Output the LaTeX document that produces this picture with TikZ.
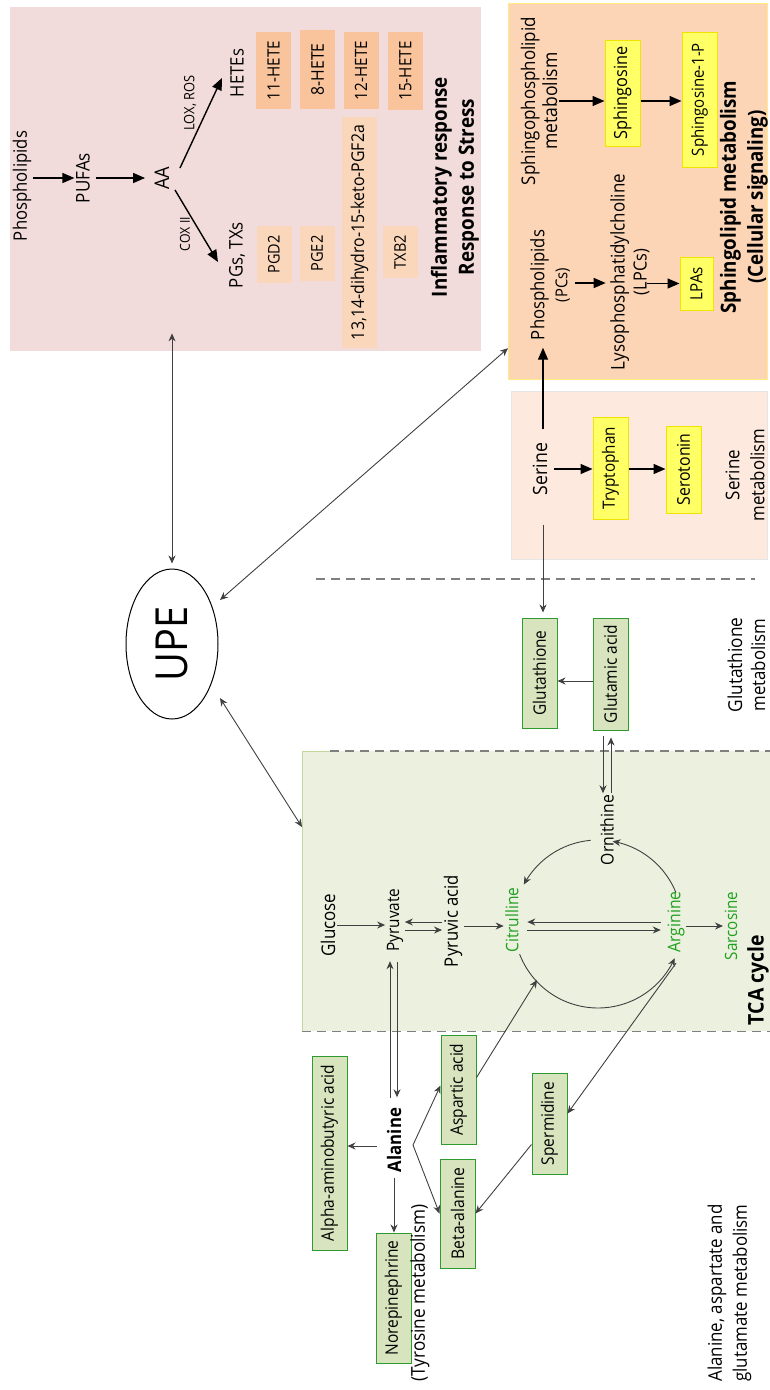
\documentclass[tikz,border=0pt]{standalone}
\usepackage{fontspec}
\setmainfont{Open Sans}[FakeStretch=0.9]
\usetikzlibrary{arrows.meta,shapes.geometric}
\newcommand{\txw}[2]{\resizebox{#1pt}{!}{#2}}
\definecolor{infbg}{HTML}{F2DCDB}
\definecolor{sphbg}{HTML}{FBD5B5}
\definecolor{sphbd}{HTML}{FFEB80}
\definecolor{serbg}{HTML}{FDE9DD}
\definecolor{serbd}{HTML}{E6E6E6}
\definecolor{tcabg}{HTML}{EBF1DE}
\definecolor{tcabd}{HTML}{C3D69B}
\definecolor{hetebg}{HTML}{F9C49C}
\definecolor{pgbg}{HTML}{FAD7BA}
\definecolor{yelbg}{HTML}{FFFF66}
\definecolor{yelbd}{HTML}{F2E400}
\definecolor{grnbg}{HTML}{D7E4BD}
\definecolor{grnbd}{HTML}{2F9A2F}
\definecolor{grntxt}{HTML}{1FA01F}
\definecolor{arr}{HTML}{404040}
\definecolor{dashc}{HTML}{7F7F7F}
\tikzset{
  lbl/.style={rotate=90, inner sep=1.5pt, align=center, font=\fontsize{18}{23}\selectfont},
  sml/.style={rotate=90, inner sep=1pt, font=\fontsize{13}{15}\selectfont},
  ttl/.style={rotate=90, inner sep=1pt, align=center, font=\fontsize{21}{27}\selectfont\bfseries},
  boxbase/.style={rotate=90, inner sep=0pt, minimum height=35pt, font=\fontsize{17}{20}\selectfont},
  hetebox/.style={boxbase, fill=hetebg},
  pgbox/.style={boxbase, fill=pgbg},
  ybox/.style={boxbase, fill=yelbg, draw=yelbd, line width=1pt},
  gbox/.style={boxbase, fill=grnbg, draw=grnbd, line width=1pt},
  gtxt/.style={lbl, text=grntxt},
  bk/.style={draw=black, line width=1.4pt, -{Triangle[length=12pt,width=10pt]}},
  ga/.style={draw=arr, line width=0.9pt, -{Stealth[length=8pt,width=7pt]}},
  gab/.style={draw=arr, line width=0.9pt, {Stealth[length=8pt,width=7pt]}-{Stealth[length=8pt,width=7pt]}},
  sepline/.style={draw=dashc, line width=1.3pt, dash pattern=on 9pt off 6pt},
  bgbox/.style={inner sep=0pt, anchor=north west}
}
\begin{document}
\begin{tikzpicture}[x=1pt,y=-1pt]
\useasboundingbox (0,0) rectangle (770,1390);
% ---------- backgrounds ----------
\node[bgbox, fill=infbg, minimum width=471pt, minimum height=344pt] (infbox) at (10,7) {};
\node[bgbox, fill=sphbg, draw=sphbd, line width=1.2pt, minimum width=259pt, minimum height=376pt] (sphbox) at (508,3) {};
\node[bgbox, fill=serbg, draw=serbd, line width=1pt, minimum width=256pt, minimum height=168pt] (serbox) at (511,391) {};
\node[bgbox, fill=tcabg, minimum width=468pt, minimum height=280pt] (tcabox) at (302,751) {};
\draw[tcabd, line width=1pt] (tcabox.north west) -- (tcabox.south west);
\draw[tcabd, line width=1pt] (tcabox.north west) -- ([xshift=28pt]tcabox.north west);
\draw[sepline] ([xshift=28pt]tcabox.north west) -- (tcabox.north east);
\draw[sepline] (tcabox.south west) -- (tcabox.south east);
\draw[sepline] (316,579) -- (755,579);

% ---------- inflammatory ----------
\node[lbl] (phos) at (22,186) {\txw{110}{Phospholipids}};
\node[lbl] (pufa) at (83,178) {\txw{50}{PUFAs}};
\node[lbl] (aa) at (162,178) {\txw{23}{AA}};
\node[lbl] (hetes) at (237,73) {\txw{48}{HETEs}};
\node[lbl] (pgs) at (237,255) {\txw{66}{PGs, TXs}};
\node[sml] (lox) at (190,103) {\txw{55}{LOX, ROS}};
\node[sml] (cox) at (185,234) {\txw{34}{COX II}};
\node[hetebox, minimum width=77pt] (h11) at (273.5,70.5) {\txw{59}{11-HETE}};
\node[hetebox, minimum width=79pt] (h8) at (317.5,69.5) {\txw{52}{8-HETE}};
\node[hetebox, minimum width=77pt] (h12) at (361,70.5) {\txw{59}{12-HETE}};
\node[hetebox, minimum width=78pt] (h15) at (405.5,71) {\txw{59}{15-HETE}};
\node[pgbox, minimum width=57pt] (pgd) at (274,254.5) {\txw{38}{PGD2}};
\node[pgbox, minimum width=55pt] (pge) at (317,253.5) {\txw{36}{PGE2}};
\node[pgbox, minimum width=231pt] (dhk) at (359.5,232.5) {\txw{215}{13,14-dihydro-15-keto-PGF2a}};
\node[pgbox, minimum width=52pt] (txb) at (400,252) {\txw{34}{TXB2}};
\node[ttl] (inft) at (455,187) {\txw{220}{Inflammatory response}\\\txw{176}{Response to Stress}};

\draw[bk] (phos.south |- pufa.center) -- (pufa.north);
\draw[bk, shorten <=4pt, shorten >=8pt] (pufa.south) -- (pufa.south -| aa.north);
\draw[bk] ([shift={(18,-10)}]aa.center) -- ([shift={(-15,5)}]hetes.center);
\draw[bk] ([shift={(13,12)}]aa.center) -- ([shift={(-19,7)}]pgs.center);

% ---------- sphingolipid ----------
\node[lbl, font=\fontsize{18}{22}\selectfont] (sphmet) at (539,101) {\txw{168}{Sphingophospholipid}\\\txw{97}{metabolism}};
\node[ybox, minimum width=106pt] (sphg) at (622.5,93) {\txw{93}{Sphingosine}};
\node[ybox, minimum width=135pt] (s1p) at (699.5,99.5) {\txw{113}{Sphingosine-1-P}};
\node[ttl] (spht) at (744,197) {\txw{233}{Sphingolipid metabolism}\\\txw{173}{(Cellular signaling)}};
\node[lbl, font=\fontsize{18}{23}\selectfont] (pcs) at (550,285) {\txw{110}{Phospholipids}\\\txw{34}{(PCs)}};
\node[lbl, font=\fontsize{18}{22}\selectfont] (lpcs) at (630,272) {\txw{196}{Lysophosphatidylcholine}\\\txw{46}{(LPCs)}};
\node[ybox, minimum width=53pt, minimum height=33pt] (lpas) at (696.5,283.5) {\txw{33}{LPAs}};

\draw[bk] (sphmet.south) -- (sphmet.south -| sphg.north);
\draw[bk] ([yshift=-8pt]sphg.south) -- ([yshift=-8pt]sphg.south -| s1p.north);
\draw[bk, shorten <=3pt, shorten >=3pt] ([yshift=2pt]pcs.south) -- ([yshift=2pt]pcs.south -| lpcs.north);
\draw[bk, shorten <=-4pt] (lpcs.south |- lpas.center) -- (lpas.north);

% ---------- serine ----------
\node[lbl] (serine) at (540,469) {\txw{52}{Serine}};
\node[ybox, minimum width=102pt] (tryp) at (610.5,468) {\txw{82}{Tryptophan}};
\node[ybox, minimum width=87pt] (sero) at (683.5,469.5) {\txw{72}{Serotonin}};
\node[lbl, font=\fontsize{18}{25}\selectfont] (sermet) at (745,475) {\txw{50}{Serine}\\\txw{93}{metabolism}};

\draw[bk, shorten <=5pt] (serine.south) -- (serine.south -| tryp.north);
\draw[bk] ([yshift=-1pt]tryp.south) -- ([yshift=-1pt]tryp.south -| sero.north);
\draw[bk, shorten <=12pt, shorten >=6pt] ([xshift=3pt]serine.east) -- ([xshift=3pt]serine.east |- pcs.west);

% ---------- glutathione ----------
\node[gbox, minimum width=110pt] (glut) at (539.5,673) {\txw{85}{Glutathione}};
\node[gbox, minimum width=112pt] (glua) at (610.5,674) {\txw{98}{Glutamic acid}};
\node[lbl] (glutmet) at (746.5,665) {\txw{95}{Glutathione}\\\txw{93}{metabolism}};

\draw[ga, shorten <=28pt, shorten >=5pt] ([xshift=3pt]serine.west) -- ([xshift=3pt]serine.west |- glut.east);
\draw[ga] ([yshift=-7pt]glua.north) -- ([yshift=-7pt]glua.north -| glut.south);

% ---------- TCA ----------
\node[lbl] (orn) at (607,830) {\txw{70}{Ornithine}};
\node[lbl] (glucose) at (328,925) {\txw{63}{Glucose}};
\node[lbl] (pyr) at (395,920) {\txw{63}{Pyruvate}};
\node[lbl] (pyra) at (453,921) {\txw{92}{Pyruvic acid}};
\node[gtxt] (cit) at (512,920) {\txw{65}{Citrulline}};
\node[gtxt] (arg) at (676,922) {\txw{61}{Arginine}};
\node[gtxt] (sarc) at (731,926) {\txw{68}{Sarcosine}};
\node[ttl] (tcat) at (758,980) {\txw{90}{TCA cycle}};

\draw[ga, shorten <=5pt] ([xshift=-4pt]orn.east |- glua.west) -- ([xshift=-4pt]orn.east);
\draw[ga, shorten >=7pt] ([xshift=4pt]orn.east) -- ([xshift=4pt]orn.east |- glua.west);

\draw[ga] (glucose.south) -- (glucose.south -| pyr.north);
\draw[ga] ([yshift=-2pt]pyr.south -| pyra.north) -- ([yshift=-2pt]pyr.south);
\draw[ga] ([yshift=-10pt]pyr.south) -- ([yshift=-10pt]pyr.south -| pyra.north);
\draw[ga] ([yshift=-5pt]pyra.south) -- ([yshift=-5pt]pyra.south -| cit.north);
\draw[ga, shorten <=5pt, shorten >=7pt] ([yshift=-2pt]cit.south -| arg.north) -- ([yshift=-2pt]cit.south);
\draw[ga, shorten <=7pt, shorten >=5pt] ([yshift=-10pt]cit.south) -- ([yshift=-10pt]cit.south -| arg.north);
\draw[ga] ([yshift=-4pt]arg.south) -- ([yshift=-4pt]arg.south -| sarc.north);

% urea cycle arcs
\draw[ga] plot[domain=-22:-80, samples=30, smooth] ({598+84*cos(\x)}, {924+84*sin(\x)});
\draw[ga] plot[domain=265:208, samples=30, smooth] ({598+84*cos(\x)}, {924+84*sin(\x)});
\draw[ga] plot[domain=159:24, samples=50, smooth] ({598+84*cos(\x)}, {924+84*sin(\x)});
\coordinate (cin) at (537,980);

% ---------- alanine ----------
\node[lbl, font=\fontsize{18}{20}\selectfont\bfseries] (ala) at (394,1140) {\txw{64}{Alanine}};
\node[gbox, minimum width=194pt] (aab) at (329.5,1153) {\txw{176}{Alpha-aminobutyric acid}};
\node[gbox, minimum width=130pt] (nor) at (393.5,1298) {\txw{115}{Norepinephrine}};
\node[lbl] (tyr) at (420,1293) {\txw{177}{(Tyrosine metabolism)}};
\node[gbox, minimum width=109pt] (asp) at (458.5,1089.5) {\txw{92}{Aspartic acid}};
\node[gbox, minimum width=109pt] (beta) at (457.5,1213.5) {\txw{92}{Beta-alanine}};
\node[gbox, minimum width=101pt] (sperm) at (549.5,1123.5) {\txw{83}{Spermidine}};
\node[lbl, font=\fontsize{18}{25}\selectfont] (alamet) at (729.5,1293) {\txw{177}{Alanine, aspartate and}\\\txw{177}{glutamate metabolism}};
\coordinate (fork) at (413,1145);

\draw[ga, shorten <=8pt, shorten >=8pt] ([xshift=-4pt]ala.east) -- ([xshift=-4pt]ala.east |- pyr.west);
\draw[ga, shorten <=9pt, shorten >=9pt] ([xshift=3pt]ala.east |- pyr.west) -- ([xshift=3pt]ala.east);
\draw[ga, shorten <=8pt] ([yshift=-6pt]ala.north) -- ([yshift=-6pt]ala.north -| aab.south);
\draw[ga, shorten <=4pt] (ala.west) -- (ala.west |- nor.east);
\draw[ga] (fork) -- ([yshift=4pt]asp.north);
\draw[ga] (fork) -- (beta.north);
\draw[ga] ([yshift=-21pt]sperm.north) -- (beta.south);
\draw[ga] ([yshift=12pt]asp.south) -- (cin);
\draw[ga] ([yshift=-9pt]arg.west) -- ([yshift=10pt]sperm.south);

% ---------- UPE ----------
\node[ellipse, draw, line width=1pt, rotate=90, inner sep=0pt, minimum width=150pt, minimum height=92pt, font=\fontsize{44}{44}\selectfont] (upe) at (172,644) {\txw{75}{UPE}};
\draw[gab, shorten <=5pt] (upe.east) -- ([yshift=18pt]upe.east |- infbox.south);
\draw[gab] ([shift={(48,-44)}]upe.center) -- ([yshift=32pt]sphbox.south west);
\draw[gab] ([shift={(48,54)}]upe.center) -- ([yshift=-76pt]tcabox.north west);
\end{tikzpicture}
\end{document}
